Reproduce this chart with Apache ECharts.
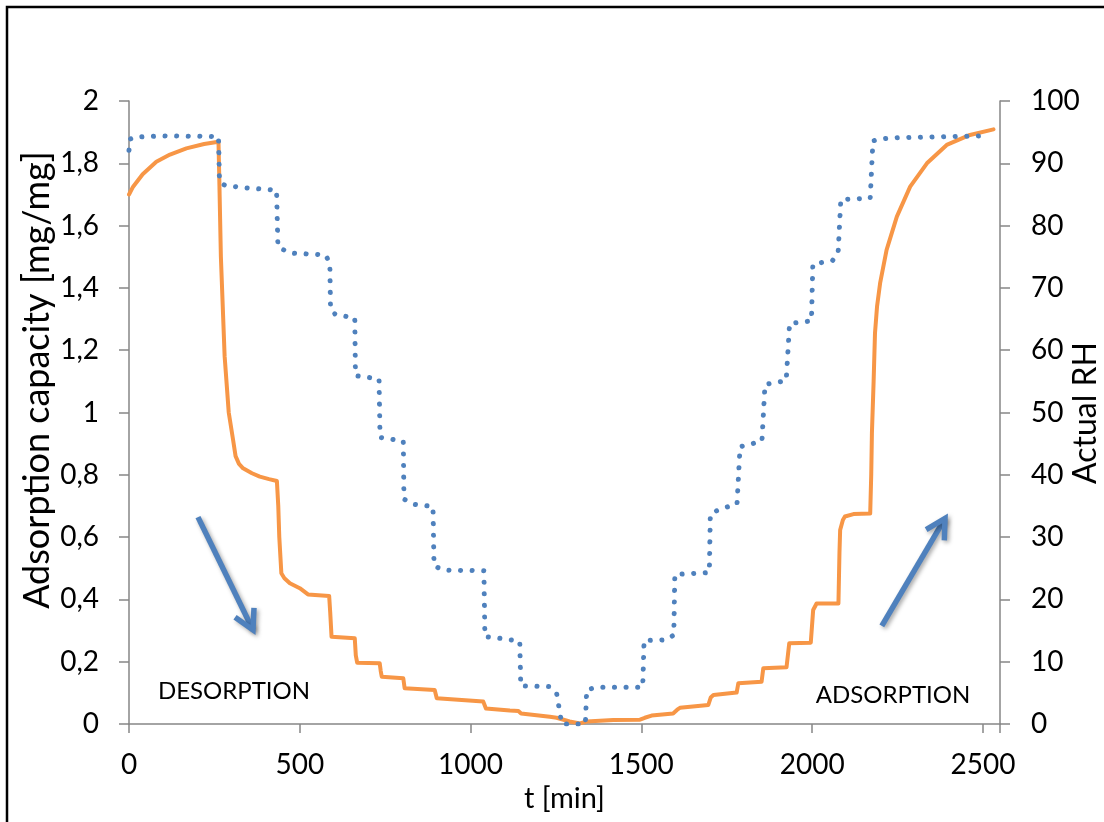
<!DOCTYPE html>
<html>
<head>
<meta charset="utf-8">
<script src="https://cdn.jsdelivr.net/npm/echarts@6/dist/echarts.min.js"></script>
<style>
  html, body { margin: 0; padding: 0; background: #fff; }
  #chart { width: 1104px; height: 822px; }
</style>
</head>
<body>
<div id="chart"></div>
<script>
// ---- Data ----
var xTicks = [0, 500, 1000, 1500, 2000, 2500];

// Adsorption capacity [mg/mg] vs t [min]
var capT = [0, 12, 40, 80, 120, 168, 220, 262, 264, 269, 280, 292, 305, 312, 322, 334, 360, 383, 410, 433,
  437, 440, 446, 455, 471, 500, 524, 586, 589, 593, 661, 664, 668, 734, 737, 740, 803, 807, 895, 901,
  1037, 1045, 1115, 1140, 1148, 1232, 1252, 1290, 1320, 1340, 1418, 1496, 1510, 1530, 1593, 1605, 1613,
  1696, 1703, 1711, 1779, 1784, 1852, 1857, 1925, 1933, 1996, 2003, 2013, 2077, 2080, 2082, 2090, 2096,
  2121, 2170, 2173, 2175, 2180, 2184, 2190, 2199, 2218, 2248, 2287, 2336, 2394, 2462, 2531];
var capVal = [1.700, 1.725, 1.765, 1.805, 1.828, 1.848, 1.862, 1.869, 1.77, 1.50, 1.18, 1.00, 0.91, 0.86, 0.835, 0.821, 0.805, 0.794, 0.786, 0.780,
  0.70, 0.60, 0.484, 0.468, 0.452, 0.436, 0.416, 0.411, 0.36, 0.280, 0.275, 0.22, 0.197, 0.195, 0.17, 0.152, 0.147, 0.115, 0.109, 0.083,
  0.072, 0.050, 0.043, 0.042, 0.034, 0.023, 0.020, 0.008, 0.002, 0.008, 0.013, 0.014, 0.020, 0.027, 0.034, 0.046, 0.052,
  0.061, 0.085, 0.093, 0.101, 0.131, 0.136, 0.179, 0.182, 0.259, 0.261, 0.366, 0.387, 0.387, 0.55, 0.623, 0.655, 0.666,
  0.674, 0.676, 0.80, 0.933, 1.10, 1.254, 1.34, 1.415, 1.522, 1.629, 1.725, 1.800, 1.859, 1.891, 1.909];

// Actual RH [%] vs t [min]
var rhT = [0, 4, 15, 100, 262, 265, 280, 330, 432, 436, 470, 575, 588, 590, 605, 661, 663, 732, 735, 803,
  805, 830, 890, 893, 920, 1039, 1042, 1080, 1144, 1147, 1230, 1252, 1267, 1336, 1340, 1370, 1504, 1508,
  1574, 1595, 1598, 1699, 1702, 1730, 1780, 1789, 1853, 1862, 1924, 1934, 1998, 2002, 2060, 2076, 2084,
  2170, 2178, 2200, 2240, 2501];
var rhVal = [92.1, 93.9, 94.2, 94.4, 94.3, 87.0, 86.5, 86.1, 85.7, 76.6, 75.6, 75.3, 74.0, 66.5, 65.7, 65.2, 55.9, 55.4, 46.0, 45.4,
  36.1, 35.3, 34.9, 25.4, 24.7, 24.6, 14.0, 13.8, 13.3, 6.1, 6.0, 4.9, 0, 0, 5.5, 5.9, 5.9, 13.4,
  13.5, 14.3, 24.0, 24.3, 33.7, 34.5, 35.3, 44.5, 45.4, 54.5, 55.1, 64.3, 64.7, 73.8, 74.4, 75.6, 84.2,
  84.4, 93.6, 93.9, 94.1, 94.4];

// Annotation arrows (in data coordinates: t, capacity)
var arrowDesorption = [[202, 0.664], [363, 0.302]];
var arrowAdsorption = [[2204, 0.315], [2389, 0.660]];

var FONT = 'Lato';
var AXIS_COLOR = '#868686';
var ORANGE = '#F79646';
var BLUE = '#4F81BD';

function zip(a, b) { return a.map(function (v, i) { return [v, b[i]]; }); }

var chart = echarts.init(document.getElementById('chart'), null, { renderer: 'canvas' });

var option = {
  animation: false,
  backgroundColor: '#ffffff',
  grid: { left: 129, right: 104, top: 101, bottom: 98, containLabel: false, outerBoundsMode: 'none' },
  xAxis: {
    type: 'value', min: 0, max: 2550, interval: 500,
    name: 't [min]', nameLocation: 'middle', nameGap: 58,
    nameTextStyle: { fontFamily: FONT, fontSize: 29, color: '#000' },
    axisLine: { show: true, lineStyle: { color: AXIS_COLOR, width: 1.5 } },
    axisTick: { show: true, length: 9, lineStyle: { color: AXIS_COLOR, width: 1.5 } },
    splitLine: { show: false },
    axisLabel: {
      margin: 27, fontFamily: FONT, fontSize: 28, color: '#000',
      formatter: function (v) { return xTicks.indexOf(v) >= 0 ? String(v) : ''; }
    }
  },
  yAxis: [{
    type: 'value', min: 0, max: 2, interval: 0.2, position: 'left',
    axisLine: { show: true, lineStyle: { color: AXIS_COLOR, width: 1.5 } },
    axisTick: { show: true, length: 10, lineStyle: { color: AXIS_COLOR, width: 1.5 } },
    splitLine: { show: false },
    axisLabel: {
      margin: 30, fontFamily: FONT, fontSize: 28, color: '#000',
      formatter: function (v) { return String(Number(v.toFixed(1))).replace('.', ','); }
    }
  }, {
    type: 'value', min: 0, max: 100, interval: 10, position: 'right',
    axisLine: { show: true, lineStyle: { color: AXIS_COLOR, width: 1.5 } },
    axisTick: { show: true, length: 10, lineStyle: { color: AXIS_COLOR, width: 1.5 } },
    splitLine: { show: false },
    axisLabel: { margin: 31, fontFamily: FONT, fontSize: 28, color: '#000' }
  }],
  series: [{
    name: 'Adsorption capacity', type: 'line', yAxisIndex: 0,
    data: zip(capT, capVal), showSymbol: false, smooth: false,
    lineStyle: { color: ORANGE, width: 4, join: 'round', cap: 'round' }
  }, {
    name: 'Actual RH', type: 'line', yAxisIndex: 1,
    data: zip(rhT, rhVal), showSymbol: false, smooth: false,
    lineStyle: { color: BLUE, width: 5, type: [0.1, 11.5], cap: 'round', join: 'round' }
  }]
};
chart.setOption(option);

function arrowGraphic(pts) {
  var p0 = chart.convertToPixel({ gridIndex: 0 }, pts[0]);
  var p1 = chart.convertToPixel({ gridIndex: 0 }, pts[1]);
  var ang = Math.atan2(p1[1] - p0[1], p1[0] - p0[0]);
  var L = 22, A = 0.5;
  var b1 = [p1[0] - L * Math.cos(ang - A), p1[1] - L * Math.sin(ang - A)];
  var b2 = [p1[0] - L * Math.cos(ang + A), p1[1] - L * Math.sin(ang + A)];
  var style = {
    stroke: BLUE, lineWidth: 5.5, fill: null, lineCap: 'butt', lineJoin: 'miter',
    shadowBlur: 4, shadowOffsetX: 2, shadowOffsetY: 2, shadowColor: 'rgba(0,0,0,0.35)'
  };
  return [
    { type: 'polyline', shape: { points: [p0, p1] }, style: style, z: 10 },
    { type: 'polyline', shape: { points: [b1, p1, b2] }, style: style, z: 10 }
  ];
}

var graphics = [{
  type: 'rect', shape: { x: 7, y: 7, width: 1300, height: 1000 },
  style: { stroke: '#000', lineWidth: 2.5, fill: null }, z: 20
}, {
  type: 'text', x: 37, y: 380, rotation: Math.PI / 2,
  style: { text: 'Adsorption capacity [mg/mg]', x: 0, y: 0, fontFamily: FONT, fontSize: 36, fill: '#000',
    align: 'center', verticalAlign: 'middle' }, z: 10
}, {
  type: 'text', x: 1086, y: 413, rotation: Math.PI / 2,
  style: { text: 'Actual RH', x: 0, y: 0, fontFamily: FONT, fontSize: 32, fill: '#000',
    align: 'center', verticalAlign: 'middle' }, z: 10
}, {
  type: 'text', style: { text: 'DESORPTION', x: 234, y: 691, fontFamily: FONT, fontSize: 24, fill: '#000',
    align: 'center', verticalAlign: 'middle' }, z: 10
}, {
  type: 'text', style: { text: 'ADSORPTION', x: 893, y: 695, fontFamily: FONT, fontSize: 24, fill: '#000',
    align: 'center', verticalAlign: 'middle' }, z: 10
}].concat(arrowGraphic(arrowDesorption), arrowGraphic(arrowAdsorption));

chart.setOption({ graphic: graphics });
</script>
</body>
</html>
